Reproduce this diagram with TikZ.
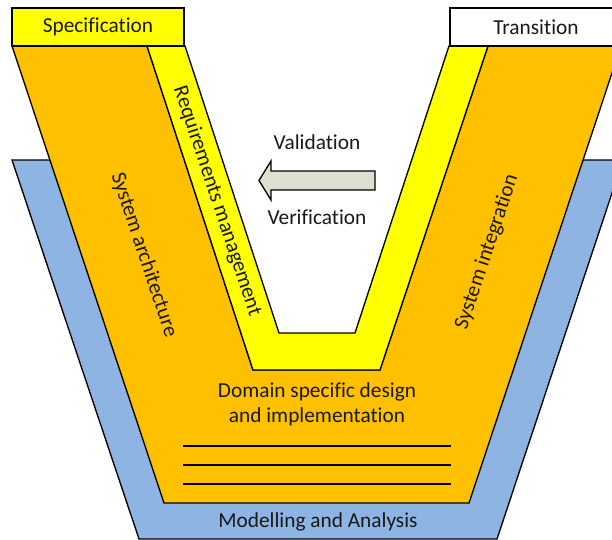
\documentclass[tikz,border=0pt]{standalone}
\usepackage{fontspec}
\setmainfont{Carlito}[Ligatures={NoCommon}]
\definecolor{vblue}{HTML}{8EB4E3}
\definecolor{vorange}{HTML}{FFC000}
\definecolor{vyellow}{HTML}{FFFF00}
\definecolor{varrow}{HTML}{DDE0CE}
\tikzset{
  band/.style={draw=black, line width=1pt, line join=miter},
  lbl/.style={inner sep=0pt, font=\fontsize{16}{18.75}\selectfont, text=black!90},
  topbox/.style={band},
  rule/.style={draw=black, line width=1pt}
}
\begin{document}
\begin{tikzpicture}[x=0.75pt, y=-0.75pt]
\useasboundingbox (0,0) rectangle (612,540);
\clip (0,0) rectangle (612,540);
% blue base
\filldraw[band, fill=vblue] (12,160) -- (623,160) -- (497,539) -- (139,539) -- cycle;
% white interior of the V
\fill[white] (160,40) -- (279,333) -- (355,333) -- (470,40) -- cycle;
% orange V
\filldraw[band, fill=vorange] (12,46) -- (147,46) -- (253,370) -- (380,370) -- (488,46) -- (621,46) -- (469,503) -- (164,503) -- cycle;
% yellow V
\filldraw[band, fill=vyellow] (147,46) -- (185,46) -- (279,333) -- (355,333) -- (449,46) -- (488,46) -- (380,370) -- (253,370) -- cycle;
% top boxes
\filldraw[topbox, fill=vyellow] (12,8) rectangle (184,46);
\filldraw[topbox, fill=white] (450,8) rectangle (622,46);
\node[lbl] (spec) at (98,27) {Specification};
\node[lbl] (trans) at (536,27) {Transition};
% arrow
\filldraw[band, fill=varrow] (375,171) -- (271,171) -- (271,161) -- (259,180.5) -- (271,200) -- (271,190) -- (375,190) -- cycle;
\node[lbl] (val) at (317,142) {Validation};
\node[lbl] (ver) at (317,217) {Verification};
% rotated labels
\node[lbl, rotate=-71.57] (req) at (217,201) {Requirements management};
\node[lbl, rotate=-71.57] (arch) at (144,255) {System architecture};
\node[lbl, rotate=71.57] (integ) at (487,252) {System integration};
% bottom
\node[lbl, align=center] (dom) at (317,404) {Domain specific design\\and implementation};
\draw[rule] (183,446) -- (451,446);
\draw[rule] (183,465) -- (451,465);
\draw[rule] (183,484) -- (451,484);
\node[lbl] (model) at (318,522) {Modelling and Analysis};
\end{tikzpicture}
\end{document}
